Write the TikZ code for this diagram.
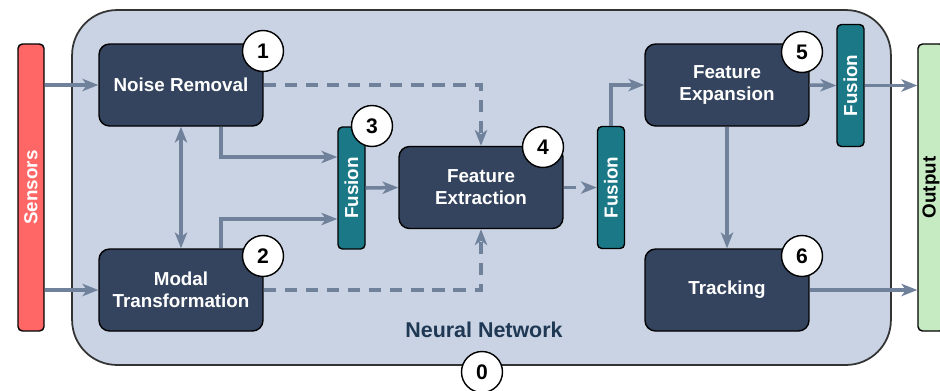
\documentclass[tikz,border=0pt]{standalone}
\usepackage{fontspec}
\setmainfont{Liberation Sans}
\usepackage{graphicx}
\usetikzlibrary{arrows.meta}

\definecolor{nnfill}{HTML}{C9D3E3}
\definecolor{navy}{HTML}{34445E}
\definecolor{fusteal}{HTML}{1B7987}
\definecolor{sensred}{HTML}{FF6666}
\definecolor{outgreen}{HTML}{C6EBC2}
\definecolor{arrgray}{HTML}{6F819B}
\definecolor{nntext}{HTML}{1F3854}

\begin{document}
\begin{tikzpicture}
  [x=0.02cm,y=-0.02cm,>={Stealth[length=9pt,width=7pt,inset=2.5pt]},
   every node/.style={font=\fontsize{10.7}{12.6}\selectfont\bfseries},
   box/.style={draw=black,line width=0.8pt,fill=navy,text=white,rounded corners=6pt,minimum width=3.28cm,minimum height=1.64cm,align=center,inner sep=0pt},
   fusion/.style={draw=black,line width=0.8pt,fill=fusteal,text=white,rounded corners=2.5pt,minimum width=0.54cm,minimum height=2.44cm,inner sep=0pt},
   side/.style={draw=black,line width=0.8pt,rounded corners=2.5pt,minimum width=0.52cm,minimum height=5.74cm,inner sep=0pt},
   badge/.style={circle,draw=black,line width=0.8pt,fill=white,minimum size=0.82cm,inner sep=0pt,font=\fontsize{12}{14}\selectfont\bfseries},
   arr/.style={draw=arrgray,line width=2pt,->},
   dasharr/.style={arr,dash pattern=on 7pt off 5pt}]
  \useasboundingbox (0,0) rectangle (940,390);

  \node[draw=black!80,line width=1pt,fill=nnfill,rounded corners=0.9cm,minimum width=16.38cm,minimum height=7.1cm] (nn) at (481.5,187.5) {};
  \node[text=nntext,font=\fontsize{12.2}{14}\selectfont\bfseries] (nnlbl) at (484,330) {Neural Network};
  \node[side,fill=sensred,text=white] (sens) at (31,187.5) {\rotatebox{90}{Sensors}};
  \node[side,fill=outgreen,text=black] (outp) at (931,187.5) {\rotatebox{90}{Output}};

  \node[box] (nr) at (181,85) {Noise Removal};
  \node[box] (mt) at (181,290) {Modal\\Transformation};
  \node[fusion] (fu1) at (351.5,188) {\rotatebox{90}{Fusion}};
  \node[box] (fe) at (481,187.5) {Feature\\Extraction};
  \node[fusion] (fu2) at (611,187.5) {\rotatebox{90}{Fusion}};
  \node[box] (fx) at (727,85) {Feature\\Expansion};
  \node[fusion] (fu3) at (850.5,85.5) {\rotatebox{90}{Fusion}};
  \node[box] (trk) at (727,290) {Tracking};

  \foreach \from/\to in {fu1.east/fe.west, fx.east/fu3.west, fx.south/trk.north}
    \draw[arr] (\from) -- (\to);
  \draw[arr] (sens.east |- nr.west) -- (nr.west);
  \draw[arr] (sens.east |- mt.west) -- (mt.west);
  \draw[arr] (fu3.east) -- (outp.west |- fu3.east);
  \draw[arr] (trk.east) -- (outp.west |- trk.east);
  \draw[arr,<->] (nr.south) -- (mt.north);
  \draw[arr] ([xshift=0.8cm]nr.south) |- ([yshift=0.62cm]fu1.west);
  \draw[arr] ([xshift=0.8cm]mt.north) |- ([yshift=-0.62cm]fu1.west);
  \draw[arr] (fu2.north) |- (fx.west);
  \draw[dasharr] (nr.east) -| (fe.north);
  \draw[dasharr] (mt.east) -| (fe.south);
  \draw[dasharr] (fe.east) -- (fu2.west);

  \foreach \n/\x/\y in {1/263/51, 2/263/256, 3/372/126, 4/543/147, 5/802/52, 6/802/256, 0/482/372}
    \node[badge] (b\n) at (\x,\y) {\n};

\end{tikzpicture}
\end{document}
